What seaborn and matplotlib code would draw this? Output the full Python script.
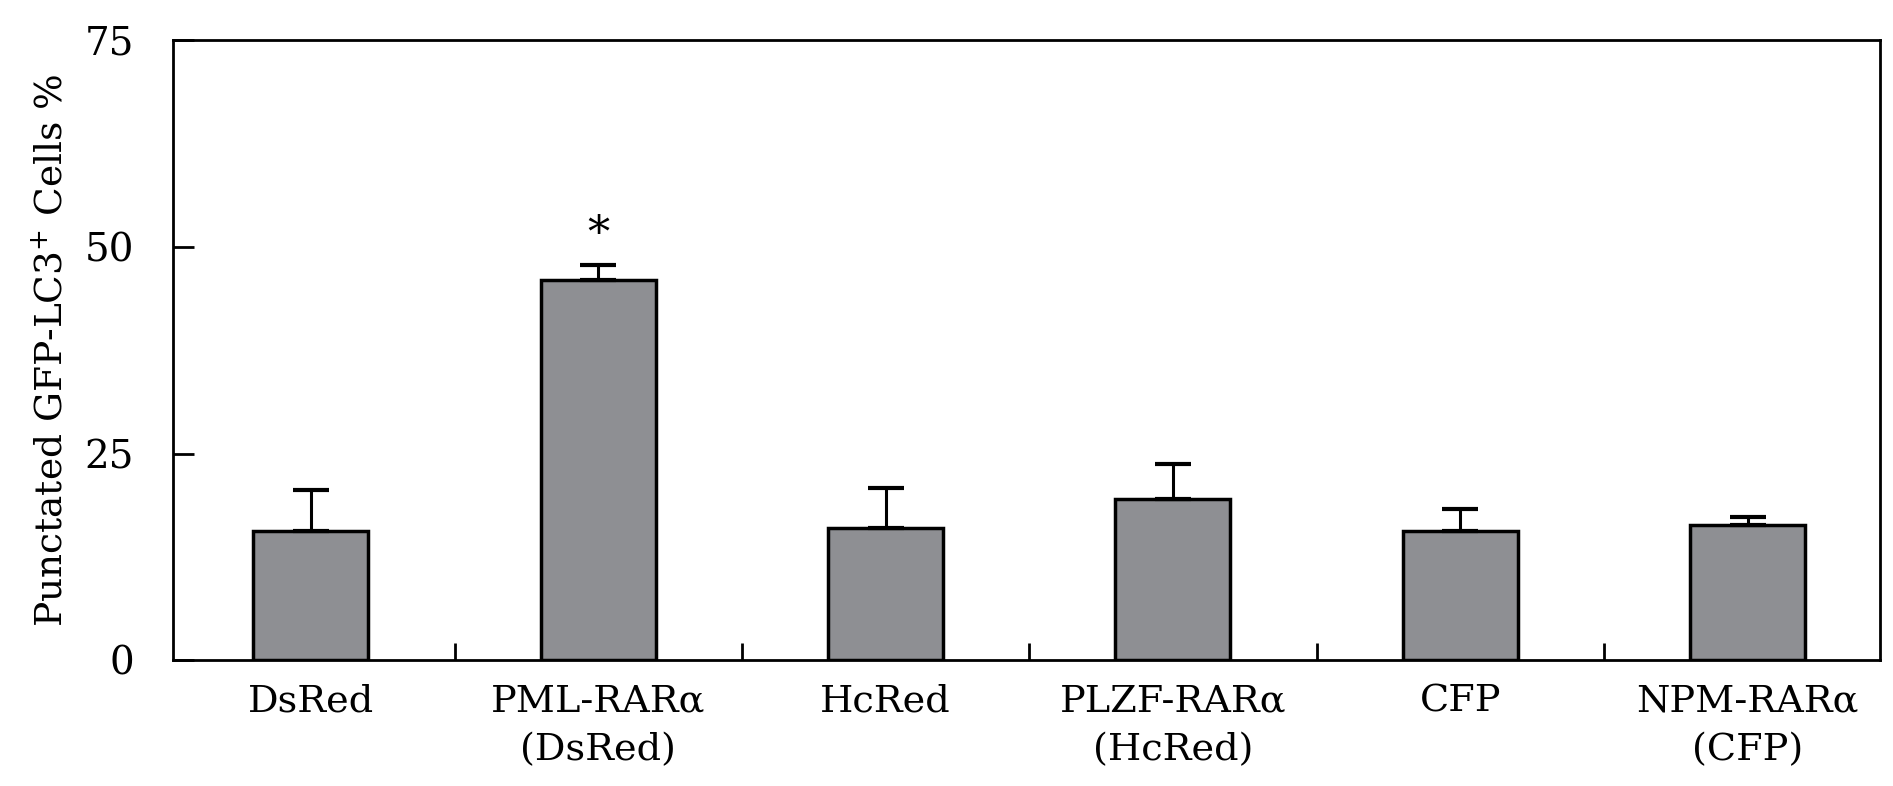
"""Punctated GFP-LC3+ cells per construct, bar chart with upper error bars."""

import matplotlib
matplotlib.use("Agg")
import matplotlib.pyplot as plt
import numpy as np
import pandas as pd
import seaborn as sns

categories = ["DsRed", "PML-RARα\n(DsRed)", "HcRed", "PLZF-RARα\n(HcRed)", "CFP", "NPM-RARα\n(CFP)"]
means = [15.6, 46.0, 16.0, 19.5, 15.6, 16.3]
errors = [5.0, 1.8, 4.8, 4.2, 2.7, 1.0]
yticks = [0, 25, 50, 75]

sns.set_theme(style="ticks")
plt.rcParams["font.family"] = ["DejaVu Serif"]
plt.rcParams.update({"text.color": "black", "axes.labelcolor": "black",
                     "xtick.color": "black", "ytick.color": "black"})

df = pd.DataFrame({"construct": categories, "pct": means})

fig = plt.figure(figsize=(18.93, 7.86), dpi=100)
ax = fig.add_axes([0.0914, 0.160, 0.9016, 0.789])

sns.barplot(data=df, x="construct", y="pct", color="#8e8f93", saturation=1,
            edgecolor="black", linewidth=2.5, width=0.4, ax=ax)
x = np.arange(len(categories))
ax.errorbar(x, means, yerr=[np.zeros(len(errors)), errors], fmt="none",
            ecolor="black", elinewidth=2.2, capsize=13, capthick=3)

# significance marker over PML-RARa
ax.text(x[1], means[1] + errors[1] + 1.0, "*", ha="center", va="bottom", fontsize=32)

ax.set_xlim(-0.48, 5.46)
ax.set_ylim(0, 75)
ax.set_yticks(yticks)
ax.set_xticks(np.arange(0.5, 5.5), minor=True)
ax.tick_params(axis="x", which="major", length=0, pad=17, labelsize=27.5)
ax.tick_params(axis="x", which="minor", direction="in", length=12, width=2)
ax.tick_params(axis="y", direction="in", length=15, width=2, pad=28, labelsize=28)
for lbl in ax.get_xticklabels():
    lbl.set_linespacing(1.45)
    lbl.set_va("top")

for side in ["left", "right", "top", "bottom"]:
    ax.spines[side].set_visible(True)
    ax.spines[side].set_linewidth(2)
    ax.spines[side].set_color("black")

ax.set_xlabel("")
ax.set_ylabel("Punctated GFP-LC3$^{+}$ Cells %", fontsize=27, labelpad=10)

fig.savefig("out.png", dpi=100)
plt.close(fig)
